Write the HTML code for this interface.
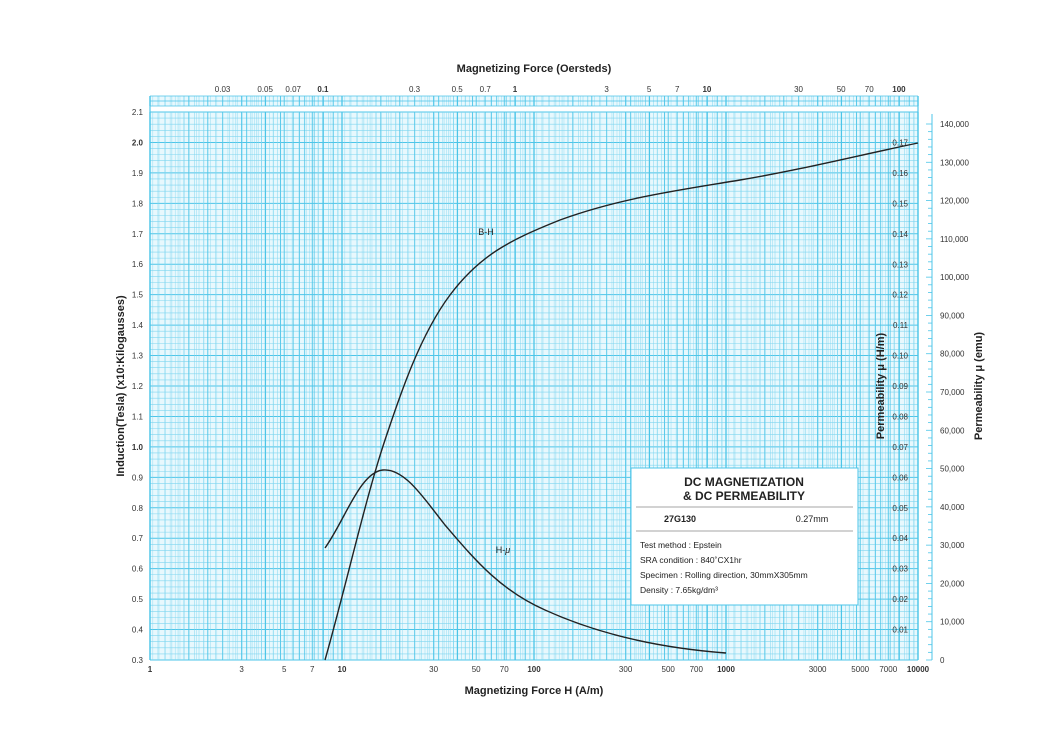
<!DOCTYPE html><html><head><style>body{margin:0;background:#fff;}svg{display:block;font-family:"Liberation Sans",sans-serif;}</style></head><body>
<svg id="s" width="1060" height="749" xmlns="http://www.w3.org/2000/svg"></svg>
<script>
const s=document.getElementById('s');let h='';
const L=150,R=918,T=112,B=660,dec=192;
const X=v=>L+Math.log10(v)*dec, Y=b=>B-(b-0.3)*304.44;
const g='#4cc5e8', gm='#7fd6f0';
h+=`<rect x="${L}" y="${T}" width="${R-L}" height="${B-T}" fill="#e8f8fd"/>`;
h+=`<rect x="${L}" y="96" width="${R-L}" height="10" fill="#e8f8fd"/>`;
for(let i=0;i<=90;i++){let y=T+i*(B-T)/90;let m=i%5==0;h+=`<line x1="${L}" x2="${R}" y1="${y}" y2="${y}" stroke="${m?g:gm}" stroke-width="${m?1:0.6}"/>`;}
function grid(y1,y2,f,sc){for(let d=-2;d<5;d++){let b=Math.pow(10,d);for(let k=1;k<10;k+=(k<2?0.1:k<5?0.2:0.5)){let kk=Math.round(k*100)/100;let v=b*kk*f;if(v<1||v>10000)continue;let x=X(v);let major=Math.abs(kk-Math.round(kk))<1e-6;h+=`<line x1="${x}" x2="${x}" y1="${y1}" y2="${y2}" stroke="${major?g:gm}" stroke-width="${(major?(kk==1?1.3:0.9):0.5)*sc}"/>`;}}}
grid(T,B,1,1);grid(96,106,1,1);grid(T,B,79.577,0.8);grid(96,106,79.577,0.8);
h+=`<line x1="${R}" x2="${R}" y1="96" y2="${B}" stroke="${g}" stroke-width="1.2"/><line x1="${L}" x2="${L}" y1="96" y2="${B}" stroke="${g}" stroke-width="1.2"/>`;
for(let i=0;i<=2;i++){let y=96+i*5;h+=`<line x1="${L}" x2="${R}" y1="${y}" y2="${y}" stroke="${g}" stroke-width="0.7"/>`;}
for(let i=3;i<=21;i++){let b=i/10;h+=`<text x="143" y="${Y(b)+3}" font-size="8" text-anchor="end" fill="#333" ${i%10==0?'font-weight="bold"':''}>${b.toFixed(1)}</text>`;}
[[1,'1',1],[3,'3'],[5,'5'],[7,'7'],[10,'10',1],[30,'30'],[50,'50'],[70,'70'],[100,'100',1],[300,'300'],[500,'500'],[700,'700'],[1000,'1000',1],[3000,'3000'],[5000,'5000'],[7000,'7000'],[10000,'10000',1]].forEach(a=>{h+=`<text x="${X(a[0])}" y="672" font-size="8" text-anchor="middle" fill="#333" ${a[2]?'font-weight="bold"':''}>${a[1]}</text>`});
[[0.03],[0.05],[0.07],[0.1,1],[0.3],[0.5],[0.7],[1,1],[3],[5],[7],[10,1],[30],[50],[70],[100,1]].forEach(a=>{h+=`<text x="${X(a[0]*79.577)}" y="92" font-size="8" text-anchor="middle" fill="#333" ${a[1]?'font-weight="bold"':''}>${a[0]}</text>`});
for(let i=1;i<=17;i++){h+=`<text x="908" y="${B-i*30.44+3}" font-size="8" text-anchor="end" fill="#333">${(i/100).toFixed(2)}</text>`;}
h+=`<line x1="932" x2="932" y1="114" y2="660" stroke="${g}" stroke-width="1"/>`;
for(let i=0;i<=70;i++){let y=B-i*536/70;let m=i%5==0;h+=`<line x1="${m?926:928}" x2="932" y1="${y}" y2="${y}" stroke="${g}" stroke-width="0.8"/>`;if(m)h+=`<text x="940" y="${y+3}" font-size="8" fill="#333">${i==0?'0':(i*2000).toLocaleString('en-US')}</text>`;}
h+=`<text x="534" y="72" font-size="11" font-weight="bold" text-anchor="middle" fill="#222">Magnetizing Force (Oersteds)</text>`;
h+=`<text x="534" y="694" font-size="11" font-weight="bold" text-anchor="middle" fill="#222">Magnetizing Force H (A/m)</text>`;
h+=`<text transform="translate(124,386) rotate(-90)" font-size="11" font-weight="bold" text-anchor="middle" fill="#222">Induction(Tesla) (x10:Kilogausses)</text>`;
h+=`<text transform="translate(884,386) rotate(-90)" font-size="11" font-weight="bold" text-anchor="middle" fill="#222">Permeability μ (H/m)</text>`;
h+=`<text transform="translate(982,386) rotate(-90)" font-size="11" font-weight="bold" text-anchor="middle" fill="#222">Permeability μ (emu)</text>`;
h+=`<path d="M325,660 C345,590 365,500 385,440 C400,395 420,335 450,295 C480,255 510,240 560,220 C620,198 680,190 740,180 C800,170 860,155 918,143" fill="none" stroke="#222" stroke-width="1.4"/>`;
h+=`<path d="M325,548 C345,520 360,472 383,470 C405,468 425,500 445,525 C475,560 500,590 545,610 C600,635 660,648 726,653" fill="none" stroke="#222" stroke-width="1.4"/>`;
h+=`<text x="486" y="235" font-size="9" text-anchor="middle" fill="#222">B-H</text>`;
h+=`<text x="503" y="553" font-size="9" text-anchor="middle" fill="#222">H-<tspan font-style="italic">μ</tspan></text>`;
h+=`<rect x="631" y="468" width="227" height="137" fill="#fff" stroke="${g}" stroke-width="1"/>`;
h+=`<text x="744" y="486" font-size="12" font-weight="bold" text-anchor="middle" fill="#222">DC MAGNETIZATION</text>`;
h+=`<text x="744" y="500" font-size="12" font-weight="bold" text-anchor="middle" fill="#222">&amp; DC PERMEABILITY</text>`;
h+=`<line x1="636" x2="853" y1="507" y2="507" stroke="#888" stroke-width="0.8"/>`;
h+=`<text x="680" y="522" font-size="9" font-weight="bold" text-anchor="middle" fill="#222">27G130</text>`;
h+=`<text x="812" y="522" font-size="9" text-anchor="middle" fill="#222">0.27mm</text>`;
h+=`<line x1="636" x2="853" y1="531" y2="531" stroke="#888" stroke-width="0.8"/>`;
['Test method : Epstein','SRA condition : 840˚CX1hr','Specimen : Rolling direction, 30mmX305mm','Density : 7.65kg/dm³'].forEach((t,i)=>{h+=`<text x="640" y="${548+i*15}" font-size="8.5" fill="#222">${t}</text>`});
s.innerHTML=h;
</script></body></html>
